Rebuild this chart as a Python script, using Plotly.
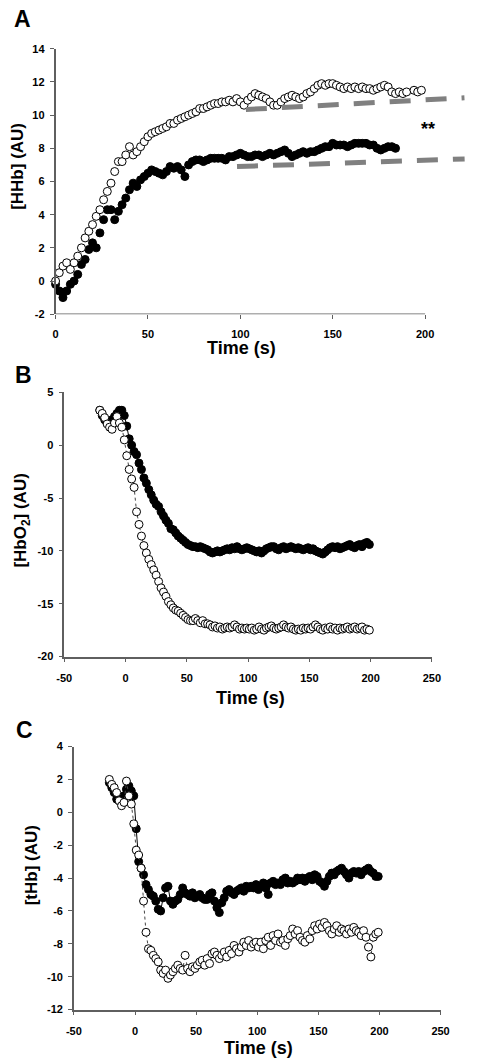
import plotly.graph_objects as go

# ---------------- DATA ----------------
# Panel A : [HHb] (AU), time 0..198 s every 2 s
time_a_open = list(range(0, 200, 2))
hhb_open = [0.0, 0.5, 0.9, 1.1, 0.7, 1.1, 1.5, 2.0, 2.6, 3.0,
            3.4, 3.9, 4.3, 4.9, 5.4, 5.9, 6.6, 7.2, 7.2, 7.6,
            8.1, 7.6, 7.8, 8.1, 8.4, 8.7, 8.9, 9.0, 9.1, 9.2,
            9.3, 9.5, 9.5, 9.7, 9.8, 9.9, 10.0, 10.1, 10.2, 10.4,
            10.4, 10.5, 10.6, 10.7, 10.7, 10.8, 10.8, 10.9, 10.8, 11.0,
            10.8, 10.6, 10.9, 11.1, 11.3, 11.2, 11.1, 11.0, 10.8, 10.6,
            10.6, 10.8, 11.0, 11.1, 11.2, 11.1, 11.0, 11.1, 11.3, 11.4,
            11.6, 11.8, 11.9, 11.8, 11.9, 11.9, 11.8, 11.7, 11.6, 11.7,
            11.6, 11.7, 11.6, 11.7, 11.6, 11.6, 11.5, 11.6, 11.7, 11.8,
            11.7, 11.4, 11.3, 11.4, 11.3, 11.4, None, 11.5, 11.4, 11.5]
time_a_filled = list(range(0, 186, 2))
hhb_filled = [-0.2, -0.6, -1.0, -0.6, -0.2, 0.0, 0.4, 1.0, 1.3, 1.9,
              2.3, 2.0, 2.9, 3.7, 4.3, 4.3, 3.7, 4.2, 4.6, 5.0,
              5.5, 5.9, 5.7, 6.1, 6.3, 6.5, 6.7, 6.6, 6.5, 6.4,
              6.6, 6.9, 6.8, 6.9, 6.7, 6.3, 7.0, 7.2, 7.3, 7.3,
              7.2, 7.3, 7.4, 7.4, 7.4, 7.4, 7.3, 7.5, 7.5, 7.6,
              7.7, 7.6, 7.5, 7.5, 7.6, 7.6, 7.5, 7.6, 7.7, 7.6,
              7.7, 7.8, 7.9, 7.7, 7.5, 7.6, 7.7, 7.8, 7.7, 7.8,
              7.8, 7.9, 8.0, 8.1, 8.1, 8.3, 8.2, 8.2, 8.2, 8.1,
              8.2, 8.3, 8.3, 8.3, 8.3, 8.2, 8.2, 8.0, 7.9, 8.0,
              8.1, 8.1, 8.0]
# dashed reference lines in panel A
dash_upper_t = [103, 221.3]
dash_upper_v = [10.34, 11.05]
dash_lower_t = [98.2, 221.4]
dash_lower_v = [6.9, 7.36]

# Panels B and C : time -21..199 s every 2 s
time_bc = list(range(-21, 200, 2))
hbo2_open = [3.3, 3.0, 2.6, 2.0, 1.7, 1.5, 2.1, 2.7, 2.1, 1.7,
             0.5, -1.0, -2.3, -3.2, -4.0, -6.3, -7.5, -8.6, -9.5, -10.2,
             -10.8, -11.3, -11.8, -12.3, -12.9, -13.5, -13.9, -14.3, -14.8, -15.1,
             -15.4, -15.6, -15.7, -15.9, -16.1, -16.3, -16.5, -16.6, -16.6, -16.4,
             -16.6, -16.8, -16.6, -16.9, -16.9, -17.0, -17.2, -17.1, -17.3, -17.2,
             -17.4, -17.3, -17.2, -17.3, -17.2, -17.0, -17.2, -17.4, -17.3, -17.4,
             -17.3, -17.4, -17.3, -17.5, -17.4, -17.2, -17.4, -17.5, -17.3, -17.2,
             -17.1, -17.3, -17.4, -17.3, -17.2, -17.0, -17.2, -17.3, -17.2, -17.4,
             -17.5, -17.4, -17.5, -17.3, -17.4, -17.3, -17.4, -17.2, -17.0, -17.2,
             -17.4, -17.5, -17.3, -17.4, -17.2, -17.4, -17.3, -17.5, -17.3, -17.4,
             -17.3, -17.2, -17.4, -17.3, -17.2, -17.4, -17.3, -17.2, -17.5, -17.4,
             -17.5]
hbo2_filled = [3.3, 2.8, 2.4, 2.1, 2.0, 2.4, 2.7, 3.0, 3.3, 3.3,
               2.8, 1.8, 0.6, 0.0, -0.6, -0.9, -1.7, -2.3, -3.1, -3.6,
               -4.2, -4.7, -5.2, -5.6, -5.8, -6.3, -6.7, -7.1, -7.4, -7.9,
               -8.0, -8.3, -8.6, -8.8, -9.0, -9.2, -9.4, -9.5, -9.6, -9.6,
               -9.7, -9.6, -9.7, -9.8, -9.9, -10.1, -10.2, -10.1, -10.0, -10.1,
               -10.0, -9.9, -9.8, -9.9, -9.7, -9.8, -9.6, -9.8, -9.9, -9.8,
               -9.7, -9.8, -9.9, -10.0, -10.1, -10.0, -10.2, -10.0, -9.8, -9.7,
               -9.6, -9.6, -9.8, -9.9, -9.7, -9.6, -9.8, -9.7, -9.6, -9.7,
               -9.8, -9.7, -9.8, -9.9, -9.8, -9.7, -9.9, -9.8, -10.0, -10.1,
               -10.2, -10.3, -10.1, -9.9, -9.7, -9.6, -9.7, -9.6, -9.8, -9.7,
               -9.6, -9.5, -9.4, -9.6, -9.7, -9.5, -9.4, -9.6, -9.3, -9.2,
               -9.4]
thb_open = [2.0, 1.7, 1.5, 1.2, 0.7, 0.4, 0.6, 1.9, 1.0, 0.5,
            -0.7, -2.3, -2.6, -3.4, -5.4, -7.3, -8.3, -8.4, -8.7, -8.9,
            -9.1, -9.6, -9.8, -9.6, -10.1, -9.9, -9.7, -9.5, -9.3, -9.5,
            -9.6, -8.7, -9.5, -9.7, -9.4, -9.5, -9.3, -9.1, -9.0, -9.3,
            -8.9, -9.2, -8.6, -8.5, -8.7, -8.9, -8.7, -8.5, -8.8, -8.4,
            -8.6, -8.1, -8.3, -8.5, -8.2, -7.9, -8.1, -7.8, -8.2, -8.0,
            -7.9, -8.2, -7.9, -8.3, -7.8, -7.6, -8.1, -7.5, -7.8, -7.4,
            -7.9, -7.8, -8.1, -7.7, -7.5, -7.1, -7.4, -7.2, -7.6, -7.8,
            -7.9, -7.5, -7.7, -7.2, -6.9, -7.1, -6.8, -7.0, -6.7, -6.9,
            -7.2, -7.4, -7.1, -6.9, -7.3, -7.1, -7.2, -7.4, -7.1, -7.3,
            -7.0, -7.2, -7.3, -7.5, -7.2, -7.6, -8.2, -8.8, -7.6, -7.4,
            -7.3]
thb_filled = [1.8, 1.5, 1.2, 0.8, 0.7, 0.9, 1.0, 1.4, 1.6, 1.3,
              1.0, -1.0, -3.0, -3.4, -3.8, -4.4, -4.7, -5.0, -5.1, -5.4,
              -5.9, -6.0, -5.2, -4.6, -4.5, -5.4, -5.6, -5.4, -5.3, -5.0,
              -4.6, -4.9, -5.0, -5.1, -4.9, -5.2, -5.1, -5.0, -5.2, -5.3,
              -5.3, -5.0, -4.9, -5.4, -5.8, -6.1, -5.5, -5.2, -4.8, -4.7,
              -4.9, -5.0, -4.8, -4.7, -4.6, -4.8, -4.5, -4.6, -4.5, -4.6,
              -4.4, -4.7, -4.5, -4.3, -4.6, -5.0, -4.3, -4.2, -4.4, -4.3,
              -4.4, -4.1, -4.0, -4.3, -4.2, -4.3, -4.2, -4.0, -4.1, -4.0,
              -4.2, -4.0, -3.9, -4.1, -3.8, -3.9, -4.2, -4.3, -4.5, -4.2,
              -3.9, -3.7, -3.8, -3.6, -3.5, -3.4, -3.6, -3.8, -4.0, -3.7,
              -3.6, -3.7, -3.6, -3.8, -3.6, -3.5, -3.4, -3.6, -3.7, -3.9,
              -3.9]

# tick labels
xticks_a = [0, 50, 100, 150, 200]
yticks_a = [-2, 0, 2, 4, 6, 8, 10, 12, 14]
xticks_bc = [-50, 0, 50, 100, 150, 200, 250]
yticks_b = [-20, -15, -10, -5, 0, 5]
yticks_c = [-12, -10, -8, -6, -4, -2, 0, 2, 4]

# ---------------- FIGURE ----------------
W, H = 484, 1064
FONT = "Arial, Liberation Sans, Helvetica, sans-serif"
AXC = "#5f5f5f"


def px(x):
    return x / W


def py(y):
    return 1 - y / H


def lab(v):
    return "<b>" + str(v) + "</b>"  # hyphen-minus like the reference


fig = go.Figure()

MS = 8
open_marker = dict(symbol="circle", size=MS, color="white",
                   line=dict(color="black", width=1))
filled_marker = dict(symbol="circle", size=MS, color="black",
                     line=dict(color="black", width=1))

# Panel A
fig.add_trace(go.Scatter(x=time_a_filled, y=hhb_filled, mode="markers",
                         marker=filled_marker, xaxis="x", yaxis="y",
                         cliponaxis=False))
fig.add_trace(go.Scatter(x=time_a_open, y=hhb_open, mode="markers",
                         marker=open_marker, xaxis="x", yaxis="y",
                         cliponaxis=False))
for tt, vv in ((dash_upper_t, dash_upper_v), (dash_lower_t, dash_lower_v)):
    fig.add_trace(go.Scatter(x=tt, y=vv, mode="lines", xaxis="x", yaxis="y",
                             line=dict(color="#808080", width=5,
                                       dash="21px,15px")))

# Panel B
fig.add_trace(go.Scatter(x=time_bc, y=hbo2_filled, mode="lines+markers",
                         marker=filled_marker, line=dict(color="black", width=1),
                         xaxis="x2", yaxis="y2", cliponaxis=False))
fig.add_trace(go.Scatter(x=time_bc, y=hbo2_open, mode="lines+markers",
                         marker=open_marker,
                         line=dict(color="#444444", width=1, dash="dot"),
                         xaxis="x2", yaxis="y2", cliponaxis=False))

# Panel C
fig.add_trace(go.Scatter(x=time_bc, y=thb_filled, mode="lines+markers",
                         marker=filled_marker, line=dict(color="black", width=1),
                         xaxis="x3", yaxis="y3", cliponaxis=False))
fig.add_trace(go.Scatter(x=time_bc, y=thb_open, mode="lines+markers",
                         marker=open_marker,
                         line=dict(color="#444444", width=1, dash="dot"),
                         xaxis="x3", yaxis="y3", cliponaxis=False))

tickfont = dict(family=FONT, size=11, color="black")


def xaxis(dom, rng, ticks, showline=True):
    return dict(domain=dom, range=rng, tickmode="array", tickvals=ticks,
                ticktext=[lab(t) for t in ticks], showline=showline,
                linecolor=AXC, linewidth=1.5, ticks="outside", ticklen=4,
                tickwidth=1.3, tickcolor=AXC, showgrid=False, zeroline=False,
                tickfont=tickfont, ticklabelstandoff=6, fixedrange=True)


def yaxis(dom, rng, ticks, anchor):
    return dict(domain=dom, range=rng, tickmode="array", tickvals=ticks,
                ticktext=[lab(t) for t in ticks], showline=True,
                linecolor=AXC, linewidth=1.5, ticks="outside", ticklen=4,
                tickwidth=1.3, tickcolor=AXC, showgrid=False, zeroline=False,
                tickfont=tickfont, anchor=anchor, ticklabelstandoff=3,
                fixedrange=True)


fig.update_layout(
    width=W, height=H, margin=dict(l=0, r=0, t=0, b=0),
    paper_bgcolor="white", plot_bgcolor="white", showlegend=False,
    font=dict(family=FONT, color="black"),
    xaxis=xaxis([px(49.3), px(474.4)], [0, 222], xticks_a, showline=False),
    yaxis=yaxis([py(311.7), py(43.3)], [-2, 14], yticks_a, "x"),
    xaxis2=dict(xaxis([px(58.3), px(439.3)], [-50, 250], xticks_bc), anchor="y2"),
    yaxis2=yaxis([py(658), py(390.7)], [-20, 5], yticks_b, "x2"),
    xaxis3=dict(xaxis([px(68.3), px(448.3)], [-50, 250], xticks_bc), anchor="y3"),
    yaxis3=yaxis([py(1015), py(749)], [-12, 4], yticks_c, "x3"),
)
fig.layout.xaxis.anchor = "y"

# x-axis line of panel A stops at 200 s while the dashed lines run past it
fig.add_shape(type="line", xref="x", yref="y", x0=0, x1=200, y0=-2, y1=-2,
              line=dict(color=AXC, width=1.5), layer="below")

ann = []


def text(x, y, s, size, angle=0):
    ann.append(dict(x=px(x), y=py(y), xref="paper", yref="paper",
                    text="<b>" + s + "</b>",
                    showarrow=False, xanchor="center", yanchor="middle",
                    textangle=angle,
                    font=dict(family=FONT, size=size, color="black")))


# panel letters
text(15.5, 13, "A", 23)
text(16, 373, "B", 23)
text(17.5, 732, "C", 23)
# x titles
text(242, 345.5, "Time (s)", 18)
text(251, 699.5, "Time (s)", 18)
text(260, 1054, "Time (s)", 18)
# y titles
text(9, 162, "[HHb] (AU)", 17, -90)
text(15, 520, "[HbO<sub>2</sub>] (AU)", 17, -90)
text(24, 869, "[tHb] (AU)", 17, -90)
# significance marker
text(435, 124, "**", 18)

fig.update_layout(annotations=ann)

fig.write_html("out.html", config={"displayModeBar": False},
               post_script="document.body.style.margin='0';"
                           "document.body.style.overflow='hidden';")
